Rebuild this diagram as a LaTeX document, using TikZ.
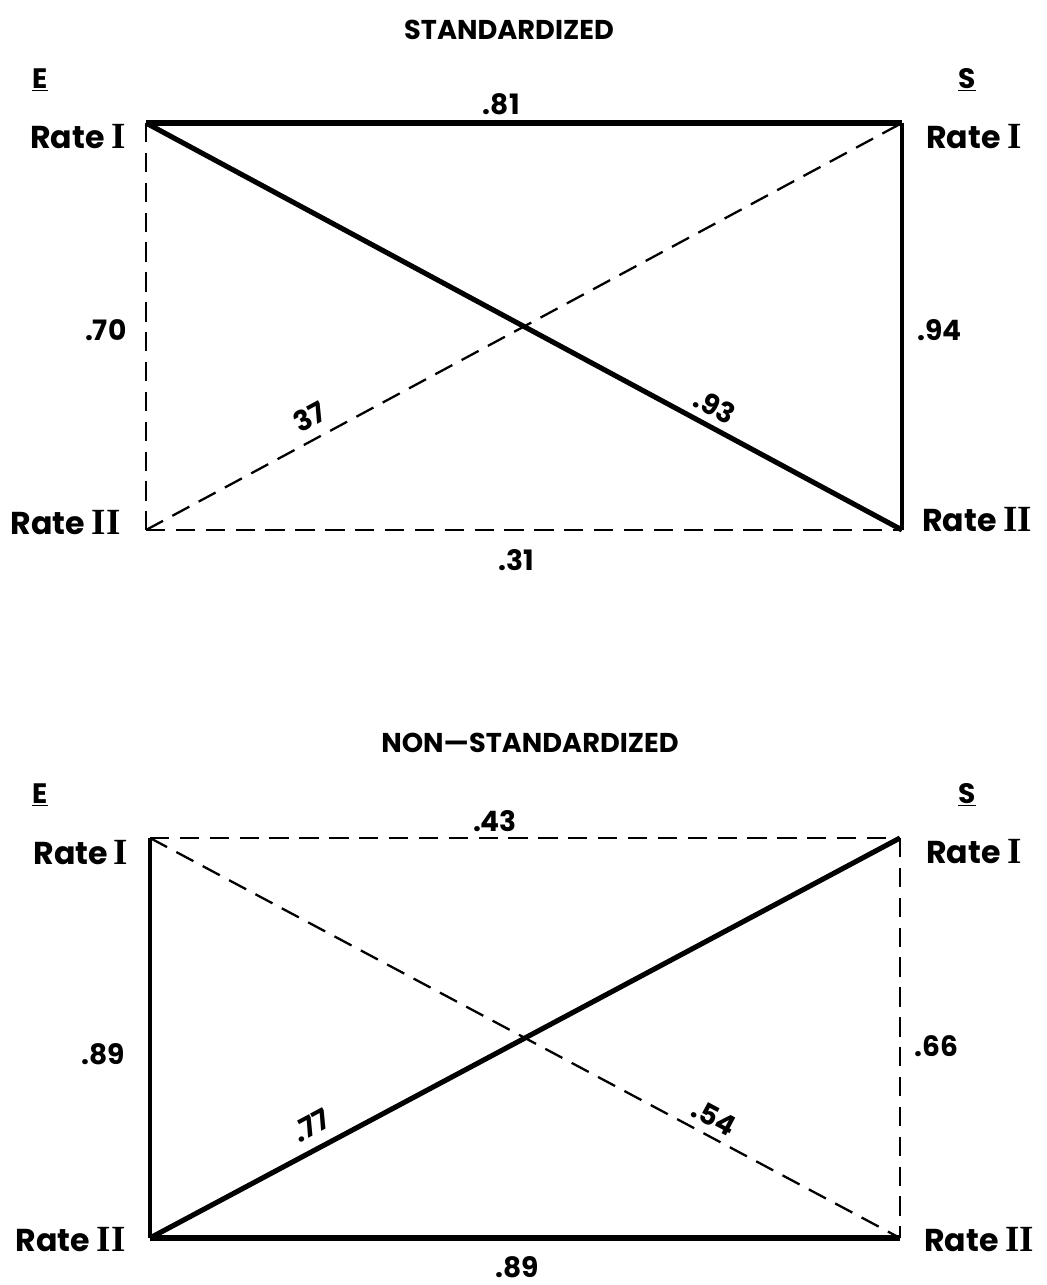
\documentclass[tikz,border=0pt]{standalone}
\usepackage{fontspec}
\setmainfont{Poppins}
\newfontfamily\romfont{Liberation Serif}
\newcommand{\rnI}{{\romfont\bfseries\fontsize{21}{21}\selectfont I}}
\newcommand{\rnII}{{\romfont\bfseries\fontsize{21}{21}\selectfont II}}

\tikzset{
  heavy/.style={line width=2.9pt},
  medium/.style={line width=2pt},
  dashln/.style={line width=1.3pt,dash pattern=on 11pt off 6pt},
  lbl/.style={font=\bfseries\fontsize{16}{19}\selectfont,inner sep=2pt},
  rate/.style={font=\bfseries\fontsize{18}{21}\selectfont,inner sep=0pt},
  side/.style={font=\bfseries\fontsize{16}{19}\selectfont},
  title/.style={font=\bfseries\fontsize{15.5}{18}\selectfont}
}

\begin{document}
\begin{tikzpicture}[x=0.02cm,y=0.02cm]
  \useasboundingbox (0,0) rectangle (1046,1285);

  % standardized
  \node[title] (stdtitle) at (509,1255) {STANDARDIZED};
  \node[side] (stdE) at (40,1205) {\underline{E}};
  \node[side] (stdS) at (967,1205) {\underline{S}};
  \coordinate (stdEI) at (146,1162);
  \coordinate (stdSI) at (902,1162);
  \coordinate (stdEII) at (146,755);
  \coordinate (stdSII) at (902,755);
  \node[rate,anchor=east] (stdEIlbl) at (126,1148) {Rate \rnI};
  \node[rate,anchor=west] (stdSIlbl) at (926,1148) {Rate \rnI};
  \node[rate,anchor=east] (stdEIIlbl) at (121,762) {Rate \rnII};
  \node[rate,anchor=west] (stdSIIlbl) at (922,765) {Rate \rnII};
  \draw[heavy] (stdEI) -- node[lbl,above=1pt,pos=0.47] {.81} (stdSI);
  \draw[dashln] (stdEI) -- node[lbl,left=0.3cm,pos=0.51] {.70} (stdEII);
  \draw[medium] (stdSI) -- node[lbl,right=0.2cm,pos=0.51] {.94} (stdSII);
  \draw[dashln] (stdEII) -- node[lbl,below=0.3cm,pos=0.49] {.31} (stdSII);
  \draw[heavy] (stdEI) -- node[lbl,sloped,above=2pt,pos=0.74] {.93} (stdSII);
  \draw[dashln] (stdEII) -- node[lbl,sloped,above=4pt,pos=0.23] {37} (stdSI);

  % non-standardized
  \node[title] (nontitle) at (530,542) {NON---STANDARDIZED};
  \node[side] (nonE) at (40,490) {\underline{E}};
  \node[side] (nonS) at (967,490) {\underline{S}};
  \coordinate (nonEI) at (150,447);
  \coordinate (nonSI) at (900,447);
  \coordinate (nonEII) at (150,47);
  \coordinate (nonSII) at (900,47);
  \node[rate,anchor=east] (nonEIlbl) at (128,432) {Rate\,\rnI};
  \node[rate,anchor=west] (nonSIlbl) at (926,433) {Rate \rnI};
  \node[rate,anchor=east] (nonEIIlbl) at (126,45) {Rate \rnII};
  \node[rate,anchor=west] (nonSIIlbl) at (924,45) {Rate \rnII};
  \draw[dashln] (nonEI) -- node[lbl,above=1pt,pos=0.46] {.43} (nonSI);
  \draw[medium] (nonEI) -- node[lbl,left=0.4cm,pos=0.54] {.89} (nonEII);
  \draw[dashln] (nonSI) -- node[lbl,right=0.2cm,pos=0.52] {.66} (nonSII);
  \draw[heavy] (nonEII) -- node[lbl,below=0.25cm,pos=0.49] {.89} (nonSII);
  \draw[heavy] (nonEII) -- node[lbl,sloped,above=4pt,pos=0.23] {.77} (nonSI);
  \draw[dashln] (nonEI) -- node[lbl,sloped,above=2pt,pos=0.74] {.54} (nonSII);
\end{tikzpicture}
\end{document}
